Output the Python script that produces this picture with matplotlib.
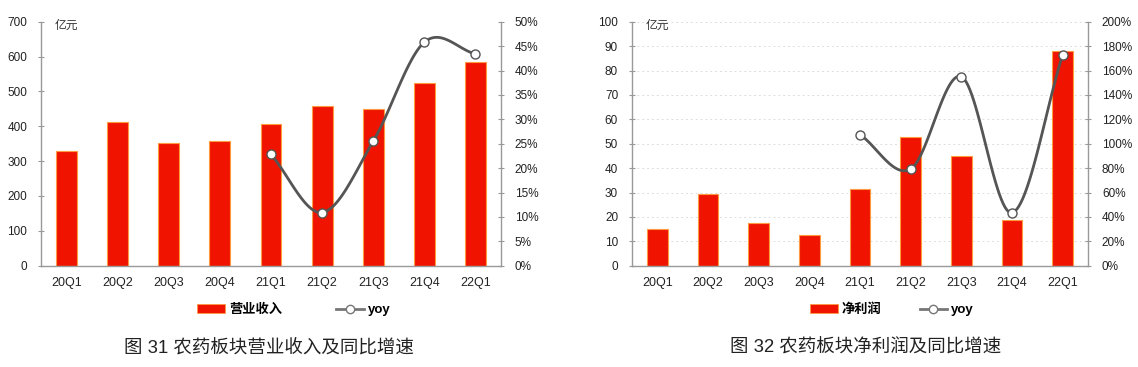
import numpy as np
import matplotlib
matplotlib.use("Agg")
import matplotlib.pyplot as plt
from matplotlib.lines import Line2D
from matplotlib.patches import Patch

plt.rcParams['font.family'] = ['Liberation Sans', 'Noto Sans CJK SC', 'DejaVu Sans']

quarters = ["20Q1", "20Q2", "20Q3", "20Q4", "21Q1", "21Q2", "21Q3", "21Q4", "22Q1"]
revenue = [329, 412, 353, 359, 407, 458, 450, 523, 585]
revenue_yoy = [None, None, None, None, 22.8, 10.9, 25.5, 45.8, 43.4]
profit = [14.9, 29.2, 17.5, 12.6, 31.6, 52.8, 44.8, 18.6, 87.8]
profit_yoy = [None, None, None, None, 107.5, 79.2, 155.0, 43.4, 172.9]

BAR = '#f01400'
EDGE = '#ff9a40'
LINE = '#555555'
AX = '#999999'
TXT = '#222222'
W, H = 1138, 367


def catmull(xs, ys, n=30):
    xs = np.asarray(xs, float); ys = np.asarray(ys, float)
    P = np.column_stack([xs, ys])
    P = np.vstack([P[0] - (P[1] - P[0]), P, P[-1] + (P[-1] - P[-2])])
    out = []
    for i in range(1, len(P) - 2):
        p0, p1, p2, p3 = P[i - 1], P[i], P[i + 1], P[i + 2]
        t = np.linspace(0, 1, n)[:, None]
        c = 0.5 * ((2 * p1) + (-p0 + p2) * t + (2 * p0 - 5 * p1 + 4 * p2 - p3) * t ** 2
                   + (-p0 + 3 * p1 - 3 * p2 + p3) * t ** 3)
        out.append(c)
    c = np.vstack(out)
    return c[:, 0], c[:, 1]


def panel(px_left, px_right, vals, yoy, ymax, ystep, pmax, pstep, bar_label, grid,
          caption, cap_x, leg_x, colsp):
    top, bottom = 21.7, 265.7
    ax = fig.add_axes([px_left / W, 1 - bottom / H, (px_right - px_left) / W, (bottom - top) / H])
    x = np.arange(len(quarters))
    ax.bar(x, vals, width=0.41, color=BAR, edgecolor=EDGE, linewidth=0.8, zorder=2)
    ax.set_xlim(-0.5, len(quarters) - 0.5)
    ax.set_ylim(0, ymax)
    ax.set_yticks(np.arange(0, ymax + ystep / 2, ystep))
    ax.set_xticks(x)
    ax.set_xticklabels(quarters)
    ax.tick_params(axis='x', length=0, pad=8, labelsize=9, colors=TXT)
    ax.tick_params(axis='y', length=4, direction='inout', pad=8, labelsize=8.5, colors=TXT)
    ax.tick_params(axis='y', color=AX)
    for s in ['top', 'right']:
        ax.spines[s].set_visible(False)
    for s in ['left', 'bottom']:
        ax.spines[s].set_color(AX)
        ax.spines[s].set_linewidth(1.0)
    if grid:
        ax.grid(axis='y', linestyle=(0, (2, 3)), color='#dddddd', linewidth=0.7, zorder=0)
    ax.set_axisbelow(True)
    ax.text(0.03, 1 - 4 / 244, '亿元', transform=ax.transAxes, fontsize=8.5, va='center',
            ha='left', color='#333333')

    ax2 = ax.twinx()
    ax2.set_ylim(0, pmax)
    ticks = np.arange(0, pmax + pstep / 2, pstep)
    ax2.set_yticks(ticks)
    ax2.set_yticklabels([f"{int(v)}%" for v in ticks])
    ax2.tick_params(axis='y', length=4, direction='inout', pad=8, labelsize=8.5, colors=TXT)
    ax2.tick_params(axis='y', color=AX)
    for s in ['top', 'left', 'bottom']:
        ax2.spines[s].set_visible(False)
    ax2.spines['right'].set_color(AX)
    ax2.spines['right'].set_linewidth(1.0)
    xi = [i for i, v in enumerate(yoy) if v is not None]
    yi = [v for v in yoy if v is not None]
    sx, sy = catmull(xi, yi)
    ax2.plot(sx, sy, color=LINE, linewidth=2.0, zorder=3, solid_capstyle='round')
    ax2.plot(xi, yi, linestyle='none', marker='o', markersize=6.5, markerfacecolor='white',
             markeredgecolor=LINE, markeredgewidth=1.0, zorder=4)

    handles = [Patch(facecolor=BAR, edgecolor=EDGE, linewidth=0.6),
               Line2D([], [], color='#777777', linewidth=2, marker='o', markersize=6,
                      markerfacecolor='white', markeredgecolor='#777777')]
    fig.legend(handles, [bar_label, 'yoy'], loc='center', bbox_to_anchor=(leg_x / W, 1 - 310 / H),
               ncol=2, frameon=False, columnspacing=colsp, handlelength=2.1,
               handletextpad=0.3, handleheight=0.6,
               prop={'family': ['Liberation Sans', 'Noto Sans CJK SC', 'DejaVu Sans'],
                     'weight': 'bold', 'size': 9.5})
    fig.text(cap_x / W, 1 - 348 / H, caption, ha='center', va='center', fontsize=13.3,
             family=['Liberation Sans', 'Noto Sans CJK SC', 'DejaVu Sans'], color=TXT)
    return ax


fig = plt.figure(figsize=(W / 100, H / 100), dpi=100)
panel(41, 501, revenue, revenue_yoy, 700, 100, 50, 5,
      '营业收入', False, '图 31 农药板块营业收入及同比增速', 269, 294, 4.1)
panel(632, 1088, profit, profit_yoy, 100, 10, 200, 20,
      '净利润', True, '图 32 农药板块净利润及同比增速', 866, 892, 2.9)

fig.savefig('out.png', dpi=100)
